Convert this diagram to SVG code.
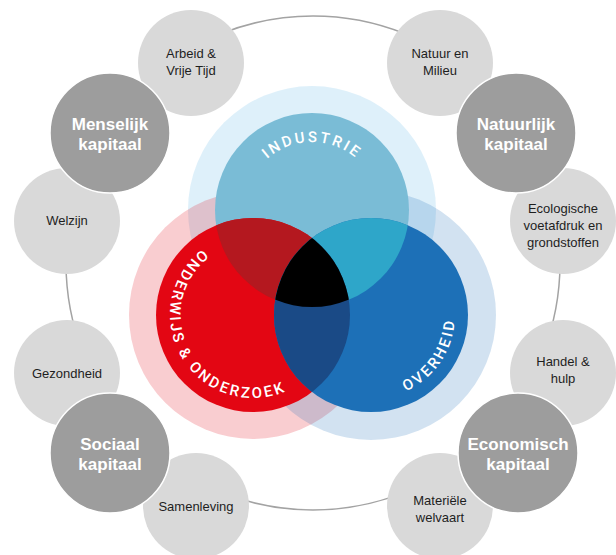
<svg xmlns="http://www.w3.org/2000/svg" width="616" height="555" viewBox="0 0 616 555">
<style>
.light{fill:#d9d9d9}
.dark{fill:#9d9d9d;stroke:#ffffff;stroke-width:1.5}
.lt{font-family:"Liberation Sans",Arial,sans-serif;font-size:13px;fill:#1e1e1e;text-anchor:middle}
.dt{font-family:"Liberation Sans",Arial,sans-serif;font-size:17px;font-weight:bold;fill:#ffffff;text-anchor:middle}
.vt{font-family:Roboto,"Liberation Sans",sans-serif;font-size:15px;font-weight:500;fill:#ffffff;letter-spacing:2.6px}
</style>
<defs>
<clipPath id="cT"><circle cx="312" cy="210" r="97"/></clipPath>
<clipPath id="cR"><circle cx="253" cy="315" r="97"/></clipPath>
<clipPath id="cB"><circle cx="371" cy="315" r="97"/></clipPath>
<path id="pI" d="M 244,210 A 68,68 0 0 1 380,210"/>
<path id="pO" d="M 251.6,232 A 83,83 0 1 0 325.6,355.2"/>
<path id="pV" d="M 343.7,394.4 A 84,84 0 0 0 434.4,259.9"/>
</defs>
<rect width="616" height="555" fill="#ffffff"/>
<g id="connectors">
<circle cx="313" cy="263" r="247" fill="none" stroke="#a3a3a3" stroke-width="1.5"/>
</g>
<g id="arbeid"><circle class="light" cx="191" cy="63" r="53"/><text class="lt" x="191" y="58">Arbeid &amp;</text><text class="lt" x="191" y="75">Vrije Tijd</text></g>
<g id="natuur"><circle class="light" cx="440" cy="63" r="53"/><text class="lt" x="440" y="58">Natuur en</text><text class="lt" x="440" y="75">Milieu</text></g>
<g id="welzijn"><circle class="light" cx="67" cy="221" r="53"/><text class="lt" x="67" y="225">Welzijn</text></g>
<g id="ecologisch"><circle class="light" cx="563" cy="221" r="53"/><text class="lt" x="563" y="213">Ecologische</text><text class="lt" x="563" y="230">voetafdruk en</text><text class="lt" x="563" y="247">grondstoffen</text></g>
<g id="gezondheid"><circle class="light" cx="67" cy="373" r="53"/><text class="lt" x="67" y="378">Gezondheid</text></g>
<g id="handel"><circle class="light" cx="563" cy="373" r="53"/><text class="lt" x="563" y="366">Handel &amp;</text><text class="lt" x="563" y="383">hulp</text></g>
<g id="samenleving"><circle class="light" cx="196" cy="506" r="53"/><text class="lt" x="196" y="511">Samenleving</text></g>
<g id="materiele"><circle class="light" cx="440" cy="506" r="53"/><text class="lt" x="440" y="505">Materiële</text><text class="lt" x="440" y="522">welvaart</text></g>
<g id="menselijk"><circle class="dark" cx="110" cy="133" r="60"/><text class="dt" x="110" y="130">Menselijk</text><text class="dt" x="110" y="150">kapitaal</text></g>
<g id="natuurlijk"><circle class="dark" cx="516" cy="133" r="60"/><text class="dt" x="516" y="130">Natuurlijk</text><text class="dt" x="516" y="150">kapitaal</text></g>
<g id="sociaal"><circle class="dark" cx="110" cy="453" r="60"/><text class="dt" x="110" y="450">Sociaal</text><text class="dt" x="110" y="470">kapitaal</text></g>
<g id="economisch"><circle class="dark" cx="518" cy="453" r="60"/><text class="dt" x="518" y="450">Economisch</text><text class="dt" x="518" y="470">kapitaal</text></g>
<g id="venn">
<circle cx="312" cy="210" r="124" fill="#5bb4e5" fill-opacity="0.2"/>
<circle cx="253" cy="315" r="124" fill="#e30613" fill-opacity="0.2"/>
<circle cx="371" cy="315" r="125" fill="#1d70b7" fill-opacity="0.2"/>
<circle cx="312" cy="210" r="97" fill="#7abcd6"/>
<circle cx="253" cy="315" r="97" fill="#e30613"/>
<circle cx="371" cy="315" r="97" fill="#1d70b7"/>
<circle cx="253" cy="315" r="97" fill="#b4181f" clip-path="url(#cT)"/>
<circle cx="371" cy="315" r="97" fill="#2ea6c9" clip-path="url(#cT)"/>
<circle cx="371" cy="315" r="97" fill="#1a4a86" clip-path="url(#cR)"/>
<g clip-path="url(#cT)"><circle cx="371" cy="315" r="97" fill="#000000" clip-path="url(#cR)"/></g>
</g>
<g id="industrie"><text class="vt"><textPath href="#pI" startOffset="50%" text-anchor="middle">INDUSTRIE</textPath></text></g>
<g id="onderwijs"><text class="vt"><textPath href="#pO" startOffset="50%" text-anchor="middle">ONDERWIJS &amp; ONDERZOEK</textPath></text></g>
<g id="overheid"><text class="vt"><textPath href="#pV" startOffset="50%" text-anchor="middle">OVERHEID</textPath></text></g>
</svg>
